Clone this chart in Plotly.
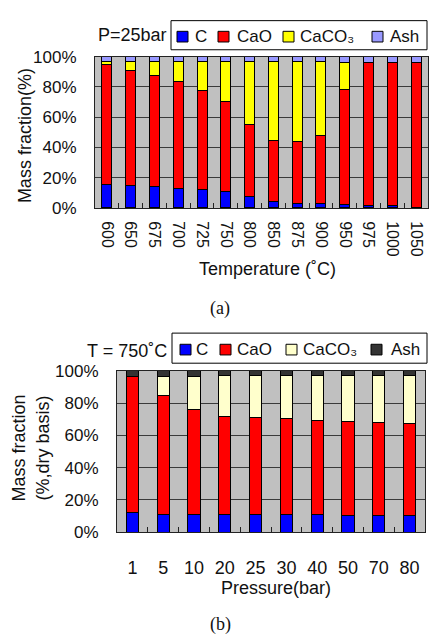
import plotly.graph_objects as go

# ---------------- data ----------------
temps = ["600", "650", "675", "700", "725", "750", "800", "850", "875", "900", "950", "975", "1000", "1050"]
c_a = [15.5, 14.6, 14.0, 13.1, 12.4, 11.0, 7.3, 4.1, 3.2, 2.6, 2.1, 1.5, 1.5, 0.6]
cao_a = [79.1, 76.2, 73.8, 70.6, 65.5, 59.2, 48.1, 40.5, 40.8, 45.0, 76.2, 94.6, 94.6, 95.5]
caco3_a = [2.2, 6.0, 9.0, 13.1, 18.9, 26.6, 41.4, 52.2, 52.8, 49.2, 17.6, 0.0, 0.0, 0.0]
ash_a = [3.2, 3.2, 3.2, 3.2, 3.2, 3.2, 3.2, 3.2, 3.2, 3.2, 4.1, 3.9, 3.9, 3.9]

pressures = ["1", "5", "10", "20", "25", "30", "40", "50", "70", "80"]
c_b = [12.2, 11.2, 11.2, 10.8, 10.8, 10.8, 10.8, 10.0, 10.0, 10.0]
cao_b = [84.2, 73.3, 64.7, 60.7, 60.1, 59.5, 58.5, 58.7, 57.7, 57.1]
caco3_b = [0.0, 11.9, 20.5, 25.5, 26.1, 26.7, 27.7, 28.3, 29.3, 29.9]
ash_b = [3.6, 3.6, 3.6, 3.0, 3.0, 3.0, 3.0, 3.0, 3.0, 3.0]

series_names = ["C", "CaO", "CaCO₃", "Ash"]
colors_a = ["#0000ff", "#ff0000", "#ffff00", "#9999ff"]
colors_b = ["#0000ff", "#ff0000", "#ffffcc", "#333333"]
y_ticks = [0, 20, 40, 60, 80, 100]
y_tick_text = ["0%", "20%", "40%", "60%", "80%", "100%"]

W, H = 434, 642
FONT = "Liberation Sans, Arial, sans-serif"
SERIF = "Liberation Serif, Times New Roman, serif"
TXT = "#111111"

def px_x(p):
    return p / W

def px_y(p):
    return (H - p) / H

fig = go.Figure()

for vals, name, col in zip([c_a, cao_a, caco3_a, ash_a], series_names, colors_a):
    fig.add_trace(go.Bar(x=temps, y=vals, name=name, marker=dict(color=col, line=dict(color="#000000", width=1)),
                         width=0.42, xaxis="x", yaxis="y", showlegend=False))
for vals, name, col in zip([c_b, cao_b, caco3_b, ash_b], series_names, colors_b):
    fig.add_trace(go.Bar(x=pressures, y=vals, name=name, marker=dict(color=col, line=dict(color="#000000", width=1)),
                         width=0.39, xaxis="x2", yaxis="y2", showlegend=False))

axis_common_y = dict(range=[0, 100], tickvals=y_ticks, ticktext=y_tick_text, showgrid=True,
                     gridcolor="#3a3a3a", gridwidth=1, showline=True, linecolor="#222222", linewidth=1,
                     mirror=True, ticks="outside", ticklen=14, tickcolor="rgba(0,0,0,0)", zeroline=False,
                     tickfont=dict(family=FONT, size=17, color=TXT))
axis_common_x = dict(type="category", showgrid=False, showline=True, linecolor="#222222", linewidth=1,
                     mirror=True, ticks="inside", ticklen=5, tickcolor="#222222", tickson="boundaries")

fig.update_layout(
    width=W, height=H, margin=dict(l=0, r=0, t=0, b=0),
    paper_bgcolor="white", plot_bgcolor="#c0c0c0",
    barmode="stack", bargap=0.5,
    xaxis=dict(domain=[px_x(95), px_x(428)], anchor="y", tickangle=90, ticklabelstandoff=9,
               tickfont=dict(family=FONT, size=16, color=TXT), **axis_common_x),
    yaxis=dict(domain=[px_y(205), px_y(49)], anchor="x", **axis_common_y),
    xaxis2=dict(domain=[px_x(117), px_x(425)], anchor="y2", tickangle=0, ticklabelstandoff=19,
                tickfont=dict(family=FONT, size=18, color=TXT), **axis_common_x),
    yaxis2=dict(domain=[px_y(539), px_y(373)], anchor="x2", **axis_common_y),
)

shapes = []
annotations = []

def legend(box, squares, texts_x, cy, colors):
    x0, y0, x1, y1 = box
    shapes.append(dict(type="rect", xref="paper", yref="paper", x0=px_x(x0), x1=px_x(x1), y0=px_y(y1), y1=px_y(y0),
                       line=dict(color="#000000", width=1), fillcolor="white"))
    for sx, tx, col, name in zip(squares, texts_x, colors, series_names):
        shapes.append(dict(type="rect", xref="paper", yref="paper", x0=px_x(sx), x1=px_x(sx + 11),
                           y0=px_y(cy + 5.5), y1=px_y(cy - 5.5), line=dict(color="#000000", width=1), fillcolor=col))
        annotations.append(dict(text=name, xref="paper", yref="paper", x=px_x(tx), y=px_y(cy), xanchor="left",
                                yanchor="middle", showarrow=False, font=dict(family=FONT, size=17, color=TXT)))

legend((171, 12, 427, 42), [177, 218, 283, 372], [193, 235, 298, 388], 28.5, colors_a)
legend((172, 334, 427, 365), [180, 220, 286, 371], [194, 235, 301, 389], 351, colors_b)

def text(t, x, y, size=18, family=FONT, angle=0, xanchor="center"):
    annotations.append(dict(text=t, xref="paper", yref="paper", x=px_x(x), y=px_y(y), xanchor=xanchor,
                            yanchor="middle", showarrow=False, textangle=angle,
                            font=dict(family=family, size=size, color=TXT)))

text("P=25bar", 169, 27, xanchor="right")
text("T = 750˚C", 169, 352, xanchor="right")
text("Mass fraction(%)", 25, 131, angle=-90)
text("Mass fraction<br>(%,dry basis)", 31, 453, angle=-90)
text("Temperature (˚C)", 267, 268)
text("Pressure(bar)", 276, 597)
text("(a)", 220, 309, family=SERIF)
text("(b)", 220, 634, family=SERIF)

fig.update_layout(shapes=shapes, annotations=annotations)
fig.write_html("out.html")
